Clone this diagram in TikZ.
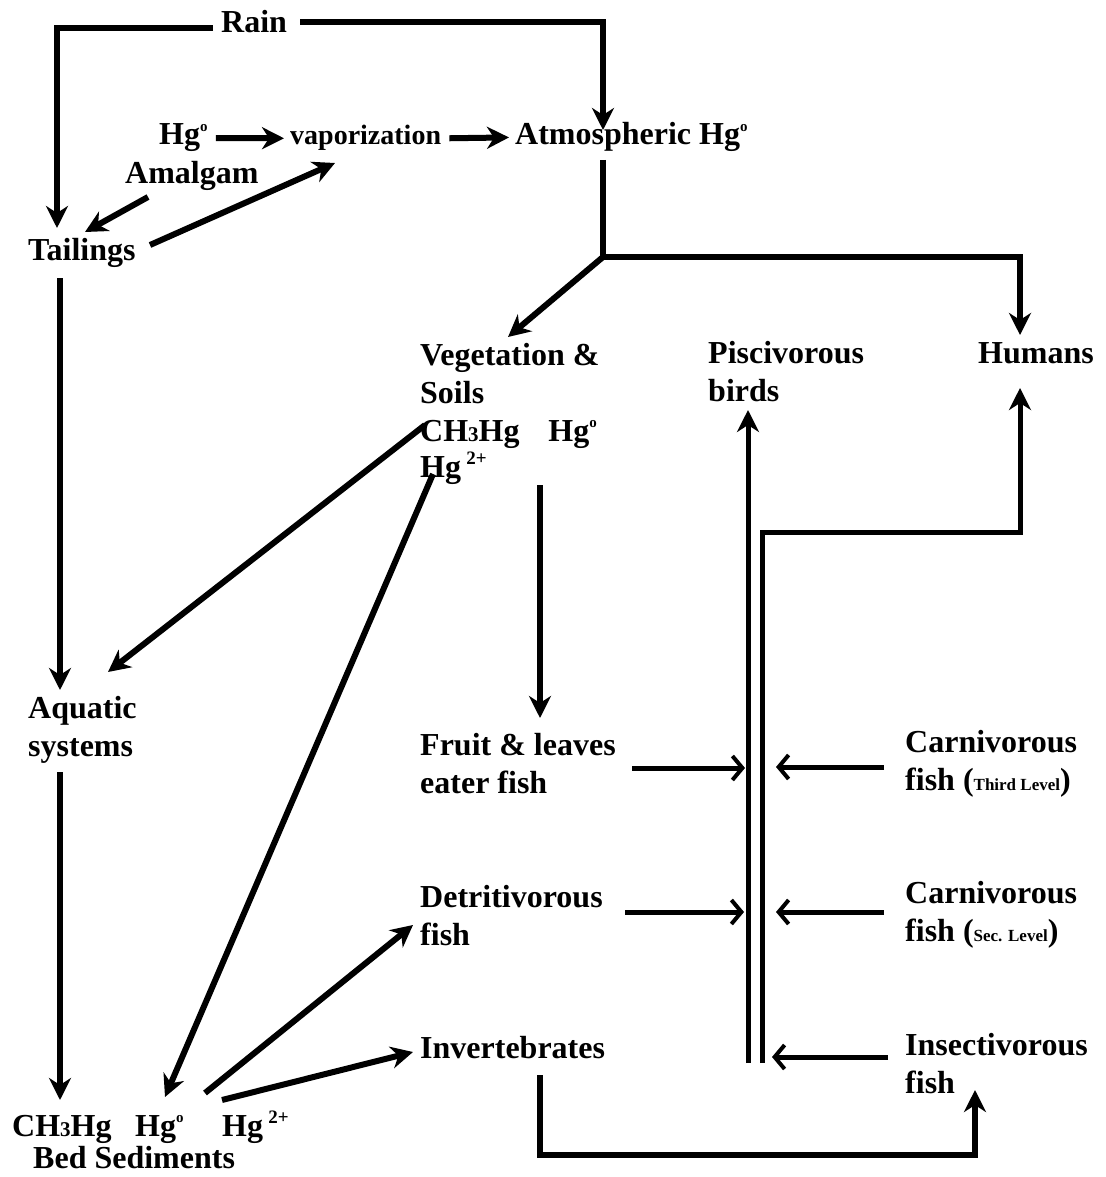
\documentclass[tikz,border=0pt]{standalone}
\usepackage{fontspec}
\setmainfont{Liberation Serif}
\usetikzlibrary{arrows.meta}
\newcommand{\supo}{\raisebox{0.42em}{\fontsize{15}{15}\selectfont o}}
\newcommand{\suptwo}{\,\raisebox{0.4em}{\fontsize{19}{19}\selectfont 2+}}
\newcommand{\subthree}{{\fontsize{21}{21}\selectfont 3}}
\begin{document}
\begin{tikzpicture}[x=1pt,y=-1pt,
  lbl/.style={inner sep=0pt, anchor=base west, font=\bfseries\fontsize{32}{38}\selectfont},
  mlbl/.style={inner sep=0pt, anchor=north west, align=left, font=\bfseries\fontsize{32}{38}\selectfont},
  arr/.style={line width=6pt, line join=miter, -{Stealth[length=22pt,width=22pt,inset=7pt]}},
  parr/.style={line width=5pt, -{Straight Barb[length=10pt,width=24pt,line width=4pt]}},
  pipe/.style={line width=5pt, line join=miter}]
\fill[white] (0,0) rectangle (1105,1177);
\useasboundingbox (0,0) rectangle (1105,1177);

% nodes
\node[lbl] (rain) at (221,33) {Rain};
\node[lbl] (hg) at (159,145) {Hg\supo};
\node[lbl,font=\bfseries\fontsize{28}{32}\selectfont] (vap) at (290,145) {vaporization};
\node[lbl] (atm) at (515,145) {Atmospheric Hg\supo};
\node[lbl] (amal) at (125,183) {Amalgam};
\node[lbl] (tail) at (28,260) {Tailings};
\node[mlbl] (veg) at (420,343) {Vegetation \&\\Soils\\CH\subthree Hg\hspace{0.9em}Hg\supo\\[-2pt]Hg\suptwo};
\node[lbl] (hum) at (978,363) {Humans};
\node[mlbl] (pisc) at (708,341) {Piscivorous\\birds};
\node[mlbl] (aqua) at (28,696) {Aquatic\\systems};
\node[mlbl] (fruit) at (420,733) {Fruit \& leaves\\eater fish};
\node[mlbl] (detr) at (420,885) {Detritivorous\\fish};
\node[lbl] (inv) at (420,1058) {Invertebrates};
\node[mlbl] (carn3) at (905,730) {Carnivorous\\fish ({\fontsize{17}{17}\selectfont Third Level})};
\node[mlbl] (carn2) at (905,881) {Carnivorous\\fish ({\fontsize{17}{17}\selectfont Sec. Level})};
\node[mlbl] (insect) at (905,1033) {Insectivorous\\fish};
\node[lbl] (bedch) at (12,1136) {CH\subthree Hg};
\node[lbl] (bedhgo) at (135,1136) {Hg\supo};
\node[lbl] (bedhgt) at (222,1136) {Hg\suptwo};
\node[lbl] (bedlbl) at (33,1168) {Bed Sediments};

% coordinates
\coordinate (rainL) at (213,28);
\coordinate (rainR) at (300,22);
\coordinate (tailTop) at (57,228);
\coordinate (atmTop) at (603,130);
\coordinate (amalS) at (148,197);
\coordinate (tailNE) at (85,232);
\coordinate (tailE) at (150,245);
\coordinate (vapSW) at (335,163);
\coordinate (atmBot) at (603,160);
\coordinate (junc) at (603,257);
\coordinate (humTop) at (1020,335);
\coordinate (vegTop) at (508,337);
\coordinate (tailBot) at (60,278);
\coordinate (aquaTop) at (60,690);
\coordinate (vegL) at (425,425);
\coordinate (aquaNE) at (108,672);
\coordinate (vegHg) at (433,474);
\coordinate (bedHgTop) at (165,1097);
\coordinate (vegBot) at (540,485);
\coordinate (fruitTop) at (540,718);
\coordinate (aquaBot) at (60,772);
\coordinate (bedChTop) at (60,1100);
\coordinate (bedA) at (205,1093);
\coordinate (detrW) at (413,925);
\coordinate (bedB) at (222,1100);
\coordinate (invW) at (413,1052);
\coordinate (invBot) at (540,1075);
\coordinate (insBot) at (975,1090);
\coordinate (pipeLB) at (748,1063);
\coordinate (piscBot) at (748,410);
\coordinate (pipeRB) at (762,1063);
\coordinate (humBot) at (1020,388);
\coordinate (fruitE) at (632,768);
\coordinate (detrE) at (625,912);
\coordinate (carnThreeW) at (884,767);
\coordinate (carnTwoW) at (884,912);
\coordinate (insW) at (888,1057);
\coordinate (pipeA) at (745,768);
\coordinate (pipeB) at (744,912);
\coordinate (pipeC) at (776,767);
\coordinate (pipeD) at (776,912);
\coordinate (pipeE) at (772,1057);

% connectors
\draw[arr] (rainL) -| (tailTop);
\draw[arr] (rainR) -| (atmTop);
\draw[arr] ([xshift=8pt]hg.east) -- ([xshift=-6pt]vap.west);
\draw[arr] ([xshift=8pt]vap.east) -- ([xshift=-6pt]atm.west);
\draw[arr] (amalS) -- (tailNE);
\draw[arr] (tailE) -- (vapSW);
\draw[line width=6pt] (atmBot) -- (junc);
\draw[arr] (junc) -| (humTop);
\draw[arr] (junc) -- (vegTop);
\draw[arr] (tailBot) -- (aquaTop);
\draw[arr] (vegL) -- (aquaNE);
\draw[arr] (vegHg) -- (bedHgTop);
\draw[arr] (vegBot) -- (fruitTop);
\draw[arr] (aquaBot) -- (bedChTop);
\draw[arr] (bedA) -- (detrW);
\draw[arr] (bedB) -- (invW);
\draw[arr] (invBot) |- (757.5,1155) -| (insBot);
\draw[arr,line width=5pt] (pipeLB) -- (piscBot);
\draw[arr,line width=5pt] (pipeRB) |- (1020,532) -- (humBot);
\draw[parr] (fruitE) -- (pipeA);
\draw[parr] (detrE) -- (pipeB);
\draw[parr] (carnThreeW) -- (pipeC);
\draw[parr] (carnTwoW) -- (pipeD);
\draw[parr] (insW) -- (pipeE);
\end{tikzpicture}
\end{document}
